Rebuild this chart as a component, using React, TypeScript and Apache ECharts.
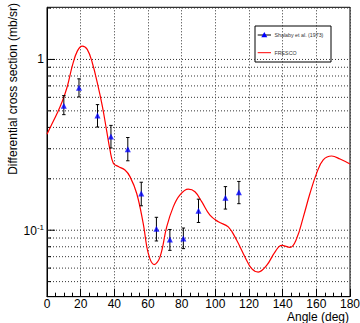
import React, { useEffect, useRef } from "react";
import * as echarts from "echarts";

const EXP_ANGLE = [10, 19, 30, 38, 48, 56, 65, 73, 81, 90, 106, 114];
const EXP_XS = [0.536, 0.682, 0.469, 0.354, 0.298, 0.164, 0.102, 0.0881, 0.0894, 0.13, 0.155, 0.167];
const EXP_LO = [0.475, 0.603, 0.402, 0.303, 0.255, 0.139, 0.0865, 0.0762, 0.078, 0.111, 0.133, 0.143];
const EXP_HI = [0.614, 0.77, 0.544, 0.411, 0.349, 0.191, 0.119, 0.101, 0.103, 0.152, 0.18, 0.193];

const FRESCO_ANGLE = [0, 2.2, 6.1, 9.1, 12.1, 15, 18, 21, 23.9, 26.9, 29.9, 32.9, 35.5, 37.4, 39.4, 42.4, 46.3, 49.3, 53.3, 57.2, 60.2, 63.6, 67.1, 71.1, 75, 79, 83.9, 87.9, 91.9, 96.8, 101.8, 107.7, 112.7, 117.6, 121.6, 125.5, 130.5, 135.4, 139.4, 144.4, 148.3, 152.3, 156.2, 160.2, 164.1, 169.1, 174.1, 180];
const FRESCO_XS = [0.365, 0.405, 0.486, 0.569, 0.697, 0.913, 1.119, 1.197, 1.145, 0.956, 0.729, 0.531, 0.379, 0.296, 0.247, 0.236, 0.225, 0.206, 0.164, 0.109, 0.0729, 0.0629, 0.0696, 0.1045, 0.137, 0.161, 0.174, 0.168, 0.147, 0.1225, 0.112, 0.1045, 0.0873, 0.0697, 0.0595, 0.0569, 0.0622, 0.0745, 0.0816, 0.0794, 0.0893, 0.1198, 0.164, 0.216, 0.258, 0.272, 0.261, 0.244];

const Y_GRID = [0.05, 0.06, 0.07, 0.08, 0.09, 0.1, 0.2, 0.3, 0.4, 0.5, 0.6, 0.7, 0.8, 0.9, 1, 2];
const Y_MAJOR = [0.1, 1];

const X_TITLE = "Angle (deg)";
const Y_TITLE = "Differential cross section (mb/sr)";

const FONT = "'Liberation Sans', Arial, Helvetica, sans-serif";

export default function App() {
  const ref = useRef<HTMLDivElement>(null);
  useEffect(() => {
    document.body.style.margin = "0";
    if (!ref.current) return;
    const chart = echarts.init(ref.current, null, { renderer: "svg" });
    const dot = [1, 2];
    const gridColor = "#333";
    const option: any = {
      animation: false,
      backgroundColor: "#fff",
      grid: {
        left: 47, right: 10, top: 7.3, bottom: 26.3,
        outerBoundsMode: "none", containLabel: false,
        show: true, borderColor: "#000", borderWidth: 1, backgroundColor: "transparent",
      },
      xAxis: {
        type: "value",
        min: 0,
        max: 180,
        interval: 20,
        axisLine: { lineStyle: { color: "#000", width: 1 } },
        axisTick: { inside: true, length: 8, lineStyle: { color: "#000" } },
        minorTick: { show: true, splitNumber: 4, length: 4, lineStyle: { color: "#000" } },
        splitLine: { show: true, lineStyle: { color: gridColor, type: dot, width: 1 } },
        axisLabel: { fontFamily: FONT, fontSize: 12, color: "#000", margin: 1 },
      },
      yAxis: {
        type: "log",
        logBase: 10,
        min: 0.0408,
        max: 2.02,
        splitNumber: 2,
        axisLine: { show: true, lineStyle: { color: "#000", width: 1 } },
        axisTick: { show: false },
        splitLine: { show: false },
        axisLabel: {
          fontFamily: FONT,
          fontSize: 12,
          color: "#000",
          margin: 3,
          formatter: (v: number) => {
            const l = Math.log10(v);
            if (Math.abs(l - Math.round(l)) > 1e-6) return "";
            const e = Math.round(l);
            if (e === 0) return "1";
            if (e === 1) return "10";
            return `{b|10}{s|${e}}`;
          },
          rich: {
            b: { fontFamily: FONT, fontSize: 12, color: "#000", lineHeight: 14, verticalAlign: "bottom" },
            s: { fontFamily: FONT, fontSize: 8, color: "#000", lineHeight: 8, verticalAlign: "top" },
          },
        },
      },
      series: [
        {
          type: "custom",
          name: "ygrid",
          silent: true,
          z: 1,
          clip: false,
          data: Y_GRID.map((v) => [0, v]),
          renderItem: (params: any, api: any) => {
            const v = api.value(1);
            const p = api.coord([0, v]);
            const cs = params.coordSys;
            const major = Y_MAJOR.some((m) => Math.abs(m - v) < 1e-9);
            return {
              type: "group",
              children: [
                { type: "line", shape: { x1: cs.x, y1: p[1], x2: cs.x + cs.width, y2: p[1] }, style: { stroke: gridColor, lineWidth: 1, lineDash: dot } },
                { type: "line", shape: { x1: cs.x, y1: p[1], x2: cs.x + (major ? 8 : 4), y2: p[1] }, style: { stroke: "#000", lineWidth: 1 } },
              ],
            };
          },
        },
        {
          type: "line",
          name: "FRESCO",
          data: FRESCO_ANGLE.map((a, i) => [a, FRESCO_XS[i]]),
          smooth: 0.4,
          showSymbol: false,
          symbol: "none",
          z: 3,
          lineStyle: { color: "#ff0000", width: 1.2 },
        },
        {
          type: "custom",
          name: "errors",
          z: 4,
          data: EXP_ANGLE.map((a, i) => [a, EXP_LO[i], EXP_HI[i]]),
          renderItem: (params: any, api: any) => {
            const x = api.value(0);
            const lo = api.coord([x, api.value(1)]);
            const hi = api.coord([x, api.value(2)]);
            const c = 1.7;
            const st = { stroke: "#000", lineWidth: 1 };
            return {
              type: "group",
              children: [
                { type: "line", shape: { x1: lo[0], y1: lo[1], x2: hi[0], y2: hi[1] }, style: st },
                { type: "line", shape: { x1: lo[0] - c, y1: lo[1], x2: lo[0] + c, y2: lo[1] }, style: st },
                { type: "line", shape: { x1: hi[0] - c, y1: hi[1], x2: hi[0] + c, y2: hi[1] }, style: st },
              ],
            };
          },
        },
        {
          type: "scatter",
          name: "Shalaby et al. (1973)",
          z: 5,
          symbol: "triangle",
          symbolSize: 6,
          itemStyle: { color: "#0000ff" },
          data: EXP_ANGLE.map((a, i) => [a, EXP_XS[i]]),
        },
      ],
      graphic: [
        {
          type: "text",
          x: 13,
          y: 3,
          rotation: Math.PI / 2,
          style: { text: Y_TITLE, fontFamily: FONT, fontSize: 12, fill: "#000", align: "right", verticalAlign: "middle" },
        },
        {
          type: "text",
          x: 349,
          y: 316.5,
          style: { text: X_TITLE, fontFamily: FONT, fontSize: 12, fill: "#000", align: "right", verticalAlign: "middle" },
        },
        {
          type: "group",
          z: 100,
          children: [
            { type: "rect", shape: { x: 255, y: 26, width: 76, height: 36 }, style: { fill: "#fff", stroke: "#000", lineWidth: 1 } },
            { type: "line", shape: { x1: 257.7, y1: 35, x2: 271, y2: 35 }, style: { stroke: "#000", lineWidth: 1 } },
            { type: "polygon", shape: { points: [[264.3, 32], [261.3, 37.3], [267.3, 37.3]] }, style: { fill: "#0000ff" } },
            { type: "text", x: 274.5, y: 35, style: { text: "Shalaby et al. (1973)", fontFamily: FONT, fontSize: 5.3, fill: "#333", verticalAlign: "middle" } },
            { type: "line", shape: { x1: 257.7, y1: 52.7, x2: 271, y2: 52.7 }, style: { stroke: "#ff0000", lineWidth: 1 } },
            { type: "text", x: 274.5, y: 52.7, style: { text: "FRESCO", fontFamily: FONT, fontSize: 5.3, fill: "#333", verticalAlign: "middle" } },
          ],
        },
      ],
    };
    chart.setOption(option);
    return () => chart.dispose();
  }, []);
  return <div ref={ref} style={{ width: 360, height: 323 }} />;
}
